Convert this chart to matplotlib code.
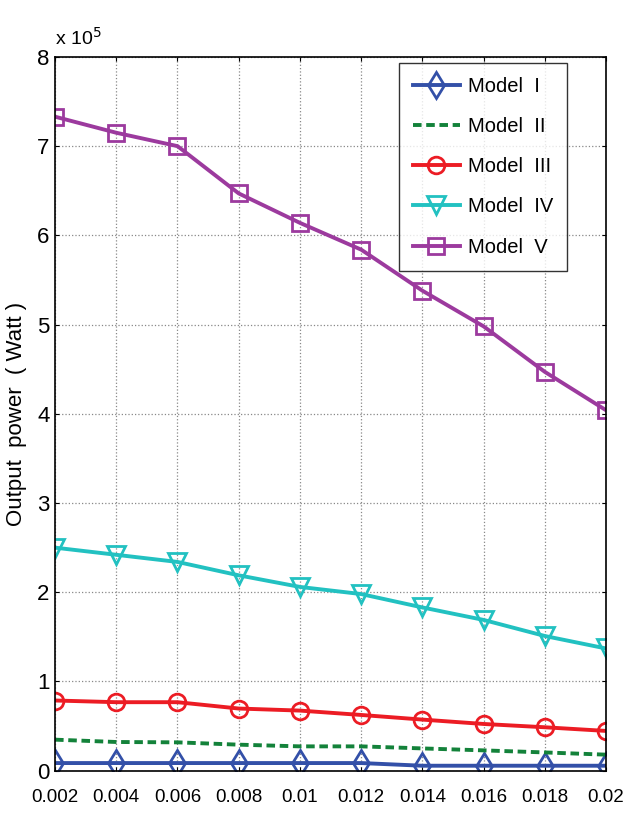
import matplotlib.pyplot as plt

# step sizes on the x axis
x_vals = [0.002, 0.004, 0.006, 0.008, 0.010, 0.012, 0.014, 0.016, 0.018, 0.020]
x_labels = ['0.002', '0.004', '0.006', '0.008', '0.01', '0.012', '0.014', '0.016', '0.018', '0.02']

# output power, in units of 1e5 W
model_1 = [0.086, 0.086, 0.086, 0.086, 0.086, 0.086, 0.056, 0.056, 0.056, 0.056]
model_2 = [0.348, 0.322, 0.318, 0.292, 0.273, 0.273, 0.250, 0.228, 0.205, 0.180]
model_3 = [0.787, 0.768, 0.768, 0.697, 0.674, 0.625, 0.573, 0.524, 0.487, 0.446]
model_4 = [2.50, 2.42, 2.34, 2.19, 2.06, 1.98, 1.83, 1.69, 1.51, 1.37]
model_5 = [7.33, 7.15, 7.00, 6.47, 6.14, 5.84, 5.38, 4.98, 4.47, 4.04]

font = 'Liberation Sans'
plt.rcParams['font.family'] = [font, 'DejaVu Sans']

fig = plt.figure(figsize=(6.4, 8.13), dpi=100)
ax = fig.add_axes([0.086, 0.052, 0.861, 0.878])

ax.plot(x_vals, model_1, color='#3350a8', lw=2.8, marker='d', ms=13, mfc='none', mew=2, label='Model  I')
ax.plot(x_vals, model_2, color='#13823a', lw=2.8, ls=(0, (2.2, 1.2)), label='Model  II')
ax.plot(x_vals, model_3, color='#ec1c24', lw=2.8, marker='o', ms=12, mfc='none', mew=2, label='Model  III')
ax.plot(x_vals, model_4, color='#22c1c1', lw=2.8, marker='v', ms=13, mfc='none', mew=2, label='Model  IV')
ax.plot(x_vals, model_5, color='#9c3a9e', lw=2.8, marker='s', ms=12, mfc='none', mew=2, label='Model  V')

ax.set_xlim(0.002, 0.02)
ax.set_ylim(0, 8)
ax.set_xticks(x_vals)
ax.set_xticklabels(x_labels, fontsize=13.5)
ax.set_yticks(range(0, 9))
ax.set_yticklabels([str(v) for v in range(0, 9)], fontsize=16)
ax.tick_params(direction='in', length=3, top=True, right=True)
ax.tick_params(axis='x', pad=13)
ax.tick_params(axis='y', pad=4)
ax.grid(True, ls=':', color='#888888', lw=0.9)
for s in ax.spines.values():
    s.set_linewidth(1.2)

ax.set_ylabel('Output  power  ( Watt )', fontsize=16, labelpad=7)
ax.text(0.0, 1.012, 'x 10$^5$', transform=ax.transAxes, fontsize=14,
        ha='left', va='bottom')

leg = ax.legend(loc='upper right', bbox_to_anchor=(0.94, 1.0), prop={'size': 14.5},
                frameon=True, fancybox=False, edgecolor='black', handlelength=2.3,
                labelspacing=1.05, borderpad=0.7, handletextpad=0.4, borderaxespad=0.3)
leg.get_frame().set_linewidth(1.0)

plt.savefig('out.png', dpi=100)
